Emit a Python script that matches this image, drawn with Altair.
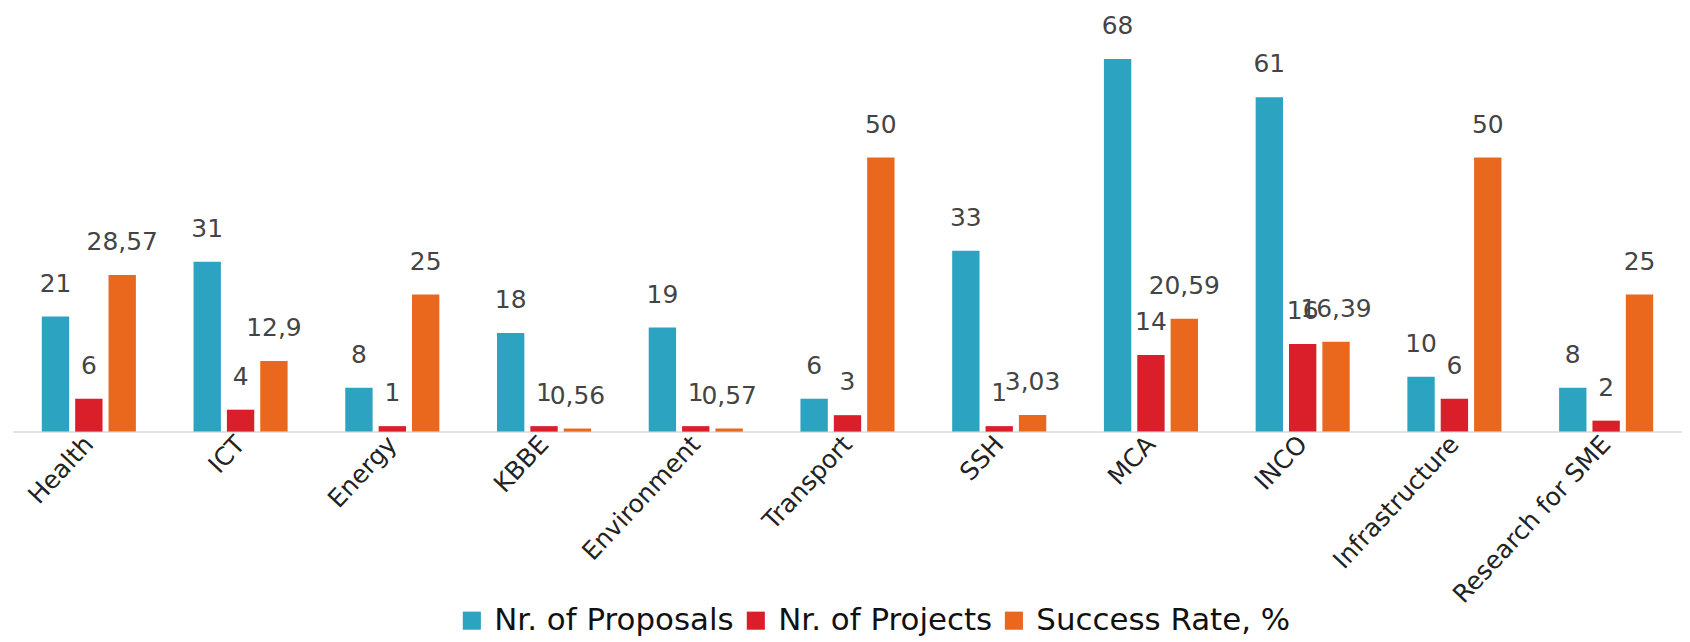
import altair as alt
import pandas as pd

categories = ["Health", "ICT", "Energy", "KBBE", "Environment", "Transport",
              "SSH", "MCA", "INCO", "Infrastructure", "Research for SME"]
proposals = [21, 31, 8, 18, 19, 6, 33, 68, 61, 10, 8]
projects = [6, 4, 1, 1, 1, 3, 1, 14, 16, 6, 2]
success_rate = [28.57, 12.9, 25, 0.56, 0.57, 50, 3.03, 20.59, 16.39, 50, 25]

series_names = ["Nr. of Proposals", "Nr. of Projects", "Success Rate, %"]
colors = ["#2ca3c1", "#da1f2b", "#ea671e"]

rows = []
for i, c in enumerate(categories):
    for s, vals in zip(series_names, [proposals, projects, success_rate]):
        v = vals[i]
        rows.append({"category": c, "series": s, "value": v,
                     "label": f"{v:g}".replace(".", ",")})
df = pd.DataFrame(rows)

x = alt.X("category:N", sort=categories,
          scale=alt.Scale(paddingInner=0.38, paddingOuter=0.19),
          axis=alt.Axis(title=None, labelAngle=-47, labelFontSize=25,
                        labelFont="DejaVu Sans", labelColor="#222",
                        labelLimit=0, ticks=False, domainColor="#e3e3e3",
                        domainWidth=2, labelPadding=8))
xoff = alt.XOffset("series:N", sort=series_names,
                   scale=alt.Scale(paddingInner=0.18, paddingOuter=0))
y = alt.Y("value:Q", scale=alt.Scale(domain=[0, 76], nice=False), axis=None)

color = alt.Color("series:N", sort=series_names,
                  scale=alt.Scale(domain=series_names, range=colors),
                  legend=alt.Legend(title=None, orient="none", legendX=445,
                                    legendY=592, direction="horizontal",
                                    labelFontSize=31, labelFont="DejaVu Sans",
                                    labelLimit=0,
                                    symbolType="square", symbolSize=330,
                                    symbolStrokeWidth=0, labelColor="#111",
                                    columnPadding=6, labelOffset=7))

bars = alt.Chart(df).mark_bar().encode(x=x, xOffset=xoff, y=y, color=color)
text = alt.Chart(df).mark_text(baseline="bottom", dy=-20, fontSize=25,
                               font="DejaVu Sans", color="#444").encode(
    x=x, xOffset=xoff, y=y, text="label:N")

chart = (bars + text).properties(
    width=1675, height=418,
    padding={"left": 5, "top": 5, "right": 0, "bottom": 0}
).configure_view(stroke=None)

chart.save("out.html", embed_options={"renderer": "svg", "actions": False})
